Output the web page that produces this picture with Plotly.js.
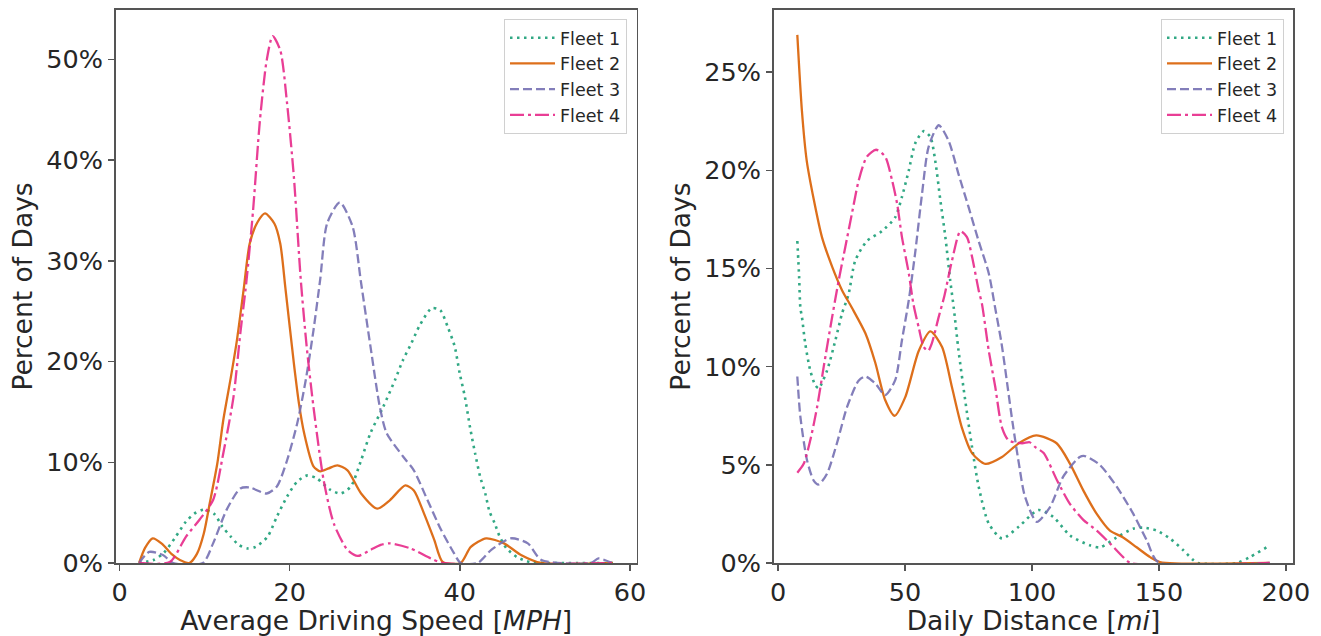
<!DOCTYPE html>
<html>
<head>
<meta charset="utf-8">
<script src="https://cdn.plot.ly/plotly-3.0.1.min.js"></script>
<style>html,body{margin:0;padding:0;background:#fff;} #chart{width:1321px;height:636px;}</style>
</head>
<body>
<div id="chart"></div>
<script>
// ---- Data: Average Driving Speed [MPH] (left panel) ----
const speedFleet1X = [2.3, 4.0, 5.2, 6.6, 7.8, 8.8, 9.9, 11.1, 12.1, 13.1, 14.0, 15.0, 16.0, 17.4, 18.5, 19.7, 20.9, 22.1, 23.2, 24.8, 26.0, 27.2, 28.4, 29.5, 31.0, 32.4, 33.3, 34.3, 35.3, 36.7, 37.7, 38.6, 39.4, 40.0, 40.6, 41.2, 41.8, 42.4, 43.0, 43.5, 44.1, 44.7, 45.5, 46.7, 48.2, 50.0, 58.0];
const speedFleet1Y = [0, 0.3, 1.0, 2.6, 4.1, 4.9, 5.3, 4.9, 3.6, 2.6, 1.8, 1.45, 1.6, 2.6, 4.6, 6.6, 8.1, 8.7, 8.4, 7.25, 6.9, 7.6, 10.2, 12.9, 15.5, 18.2, 20.1, 21.8, 23.6, 25.3, 25.1, 23.4, 21.5, 18.8, 16.5, 13.5, 10.9, 8.55, 6.9, 5.1, 3.95, 2.6, 1.45, 0.6, 0.1, 0, 0];

const speedFleet2X = [2.3, 3.0, 3.9, 5.0, 6.1, 7.1, 8.2, 9.1, 9.9, 10.6, 11.5, 12.2, 13.1, 13.8, 14.6, 15.3, 16.2, 17.1, 18.2, 18.9, 19.5, 20.5, 21.1, 21.7, 22.8, 23.6, 24.6, 25.6, 26.8, 28.4, 30.3, 31.8, 33.6, 34.6, 35.8, 37.0, 38.0, 40.1, 41.3, 43.1, 45.2, 47.2, 49.6, 58.0];
const speedFleet2Y = [0, 1.5, 2.45, 1.9, 0.9, 0.3, 0, 0.9, 2.9, 5.9, 9.9, 14.2, 18.5, 22.1, 27.2, 31.7, 33.8, 34.7, 33.7, 31.7, 27.3, 19.8, 15.8, 12.9, 9.6, 9.1, 9.4, 9.7, 9.2, 6.9, 5.4, 6.25, 7.7, 7.2, 4.9, 2.3, 0.1, 0, 1.6, 2.45, 1.95, 0.8, 0, 0];

const speedFleet3X = [2.3, 3.5, 5.1, 6.3, 9.8, 11.0, 12.6, 14.2, 15.3, 17.3, 18.5, 19.7, 20.9, 21.9, 22.8, 23.6, 24.4, 25.9, 27.4, 28.4, 29.5, 30.6, 31.4, 33.4, 34.6, 36.2, 37.8, 39.3, 40.1, 42.1, 43.7, 46.0, 48.0, 49.6, 55.4, 56.3, 57.9];
const speedFleet3Y = [0, 1.1, 0.8, 0, 0, 1.95, 5.3, 7.4, 7.5, 6.9, 7.6, 10.2, 13.9, 18.2, 23.1, 28.2, 33.7, 35.8, 33.4, 27.8, 21.5, 15.5, 12.9, 10.5, 9.2, 6.25, 3.3, 1.0, 0, 0, 1.3, 2.45, 1.95, 0.3, 0, 0.45, 0];

const speedFleet4X = [2.3, 5.9, 7.8, 9.4, 11.0, 12.2, 13.4, 14.2, 14.9, 15.7, 16.5, 17.3, 18.0, 18.9, 19.7, 20.5, 21.3, 22.0, 22.8, 24.0, 25.2, 26.8, 28.0, 29.5, 30.7, 31.8, 34.2, 36.6, 38.0, 58.0];
const speedFleet4Y = [0, 0.1, 2.6, 4.3, 6.25, 10.9, 16.5, 22.8, 27.8, 35.0, 43.9, 49.9, 52.3, 50.9, 45.6, 38.3, 28.2, 21.5, 15.5, 8.2, 3.9, 1.3, 0.7, 1.3, 1.8, 1.95, 1.45, 0.45, 0, 0];

// ---- Data: Daily Distance [mi] (right panel) ----
const distFleet1X = [7.6, 8.3, 8.8, 9.45, 10.7, 12.7, 14.7, 16.0, 19.3, 22.6, 25.2, 27.8, 30.4, 35.0, 40.9, 46.1, 48.8, 51.5, 54.1, 57.4, 60.0, 61.9, 63.9, 65.9, 67.8, 69.2, 71.1, 73.7, 76.4, 79.0, 83.0, 88.2, 94.8, 102.5, 108.4, 115.0, 122.8, 126.8, 133.3, 139.9, 143.8, 149.1, 154.3, 159.6, 163.5, 165.3, 180.6, 185.8, 192.4, 193.6];
const distFleet1Y = [16.4, 14.6, 13.0, 12.5, 11.2, 9.8, 9.05, 8.9, 9.8, 11.35, 12.7, 13.7, 15.4, 16.4, 16.9, 17.6, 18.65, 20.0, 21.4, 22.0, 21.7, 20.5, 18.5, 16.6, 14.4, 13.0, 10.8, 8.3, 5.9, 3.9, 2.0, 1.25, 1.85, 2.7, 2.35, 1.4, 0.9, 0.8, 1.3, 1.75, 1.8, 1.65, 1.25, 0.65, 0.15, 0, 0, 0.3, 0.8, 0.9];

const distFleet2X = [7.6, 9.4, 11.3, 14.1, 17.3, 21.3, 25.2, 29.1, 34.4, 38.3, 42.2, 45.9, 50.1, 55.4, 60.0, 64.6, 68.5, 72.4, 76.4, 81.6, 88.2, 94.8, 101.7, 109.7, 115.0, 120.2, 125.5, 130.7, 135.9, 141.2, 146.5, 150.4, 193.6];
const distFleet2Y = [26.9, 23.05, 20.5, 18.5, 16.6, 15.1, 13.9, 13.0, 11.7, 10.2, 8.3, 7.5, 8.45, 10.8, 11.8, 11.0, 8.95, 6.9, 5.6, 5.05, 5.4, 6.1, 6.5, 6.1, 5.05, 3.7, 2.5, 1.65, 1.3, 0.8, 0.3, 0.05, 0];

const distFleet3X = [7.6, 8.8, 11.4, 14.05, 16.0, 19.3, 23.2, 27.2, 31.8, 34.4, 38.3, 42.2, 46.1, 48.8, 51.5, 54.1, 56.7, 59.3, 63.3, 67.2, 71.1, 75.1, 79.0, 83.0, 85.5, 88.0, 92.3, 94.8, 97.2, 101.9, 107.1, 112.3, 118.8, 120.8, 126.7, 133.3, 139.9, 145.2, 149.7, 193.6];
const distFleet3Y = [9.5, 7.45, 5.25, 4.2, 4.0, 4.55, 6.1, 7.95, 9.3, 9.5, 9.15, 8.55, 9.3, 11.35, 13.4, 15.9, 18.8, 21.2, 22.3, 21.5, 19.8, 18.1, 16.4, 14.75, 13.0, 11.2, 7.2, 5.1, 3.4, 2.1, 2.85, 4.4, 5.4, 5.45, 5.0, 3.9, 2.5, 1.15, 0.05, 0];

const distFleet4X = [7.6, 10.1, 12.7, 15.4, 18.0, 20.6, 23.9, 26.5, 29.1, 31.8, 35.0, 38.6, 42.2, 44.9, 46.9, 48.8, 51.5, 53.3, 55.4, 57.4, 59.1, 60.6, 63.2, 65.5, 68.5, 71.8, 74.4, 76.4, 79.0, 80.3, 83.0, 85.5, 88.2, 90.8, 96.1, 99.1, 101.3, 104.6, 109.9, 115.0, 120.2, 125.5, 130.7, 135.9, 138.9, 193.6];
const distFleet4Y = [4.6, 5.05, 6.25, 7.95, 10.0, 12.0, 14.4, 16.1, 17.8, 19.5, 20.7, 21.05, 20.7, 19.5, 18.3, 16.6, 14.75, 13.2, 12.0, 11.0, 10.8, 11.2, 12.5, 13.6, 15.4, 16.9, 16.6, 15.6, 13.9, 13.2, 10.8, 9.0, 6.9, 6.25, 6.1, 6.15, 5.9, 5.6, 4.2, 3.0, 2.2, 1.65, 1.0, 0.3, 0, 0];

const fleetNames = ['Fleet 1', 'Fleet 2', 'Fleet 3', 'Fleet 4'];
const leftYTickVals = [0, 10, 20, 30, 40, 50];
const leftYTickText = ['0%', '10%', '20%', '30%', '40%', '50%'];
const rightYTickVals = [0, 5, 10, 15, 20, 25];
const rightYTickText = ['0%', '5%', '10%', '15%', '20%', '25%'];
const leftXTicks = [0, 20, 40, 60];
const rightXTicks = [0, 50, 100, 150, 200];

// ---- Styles ----
const colors = ['#1b9e77', '#d95f02', '#7570b3', '#e7298a'];
const dashes = ['2.5px,4.5px', 'solid', '9px,4px', '14px,4px,3px,4px'];
const widths = [2.6, 2.3, 2.3, 2.3];

const speedX = [speedFleet1X, speedFleet2X, speedFleet3X, speedFleet4X];
const speedY = [speedFleet1Y, speedFleet2Y, speedFleet3Y, speedFleet4Y];
const distX = [distFleet1X, distFleet2X, distFleet3X, distFleet4X];
const distY = [distFleet1Y, distFleet2Y, distFleet3Y, distFleet4Y];

const traces = [];
for (let i = 0; i < 4; i++) {
  traces.push({
    x: speedX[i], y: speedY[i], type: 'scatter', mode: 'lines', name: fleetNames[i],
    xaxis: 'x', yaxis: 'y', legend: 'legend', opacity: 0.9,
    line: {color: colors[i], dash: dashes[i], width: widths[i], shape: 'spline', smoothing: 0.7},
    hoverinfo: 'skip'
  });
}
for (let i = 0; i < 4; i++) {
  traces.push({
    x: distX[i], y: distY[i], type: 'scatter', mode: 'lines', name: fleetNames[i],
    xaxis: 'x2', yaxis: 'y2', legend: 'legend2', opacity: 0.9,
    line: {color: colors[i], dash: dashes[i], width: widths[i], shape: 'spline', smoothing: 0.7},
    hoverinfo: 'skip'
  });
}

const axisColor = '#555';
const tickFont = {family: 'DejaVu Sans', size: 25.5, color: '#262626'};
const titleFont = {family: 'DejaVu Sans', size: 26.5, color: '#262626'};
function xAxis(domain, range, ticks, title, anchor) {
  return {
    domain: domain, range: range, anchor: anchor,
    tickmode: 'array', tickvals: ticks,
    showgrid: false, zeroline: false,
    showline: true, mirror: true, linecolor: axisColor, linewidth: 1.6,
    ticks: 'outside', ticklen: 6, tickwidth: 1.5, tickcolor: axisColor,
    tickfont: tickFont,
    title: {text: title, font: titleFont, standoff: 4}
  };
}
function yAxis(range, ticks, texts, anchor) {
  return {
    range: range, anchor: anchor, domain: [0, 1],
    tickmode: 'array', tickvals: ticks, ticktext: texts,
    showgrid: false, zeroline: false,
    showline: true, mirror: true, linecolor: axisColor, linewidth: 1.6,
    ticks: 'outside', ticklen: 6, tickwidth: 1.5, tickcolor: axisColor,
    tickfont: tickFont,
    title: {text: 'Percent of Days', font: titleFont, standoff: 6}
  };
}

const legendStyle = {
  bgcolor: 'rgba(255,255,255,0.8)', bordercolor: '#d0d0d0', borderwidth: 1,
  font: {family: 'DejaVu Sans', size: 17.5, color: '#262626'},
  xanchor: 'right', yanchor: 'top', tracegroupgap: 0, itemwidth: 45
};

const layout = {
  width: 1321, height: 636,
  margin: {l: 0, r: 0, t: 10, b: 73},
  paper_bgcolor: '#ffffff', plot_bgcolor: '#ffffff',
  showlegend: true,
  xaxis: xAxis([115.7 / 1321, 636.7 / 1321], [-0.45, 60.8], leftXTicks, 'Average Driving Speed [<i>MPH</i>]', 'y'),
  yaxis: yAxis([0, 54.9], leftYTickVals, leftYTickText, 'x'),
  xaxis2: xAxis([773.7 / 1321, 1293.3 / 1321], [-1.7, 202.9], rightXTicks, 'Daily Distance [<i>mi</i>]', 'y2'),
  yaxis2: yAxis([0, 28.17], rightYTickVals, rightYTickText, 'x2'),
  legend: Object.assign({x: 627 / 1321, y: 0.984}, legendStyle),
  legend2: Object.assign({x: 1284 / 1321, y: 0.984}, legendStyle)
};

Plotly.newPlot('chart', traces, layout, {displayModeBar: false, staticPlot: true});
</script>
</body>
</html>
